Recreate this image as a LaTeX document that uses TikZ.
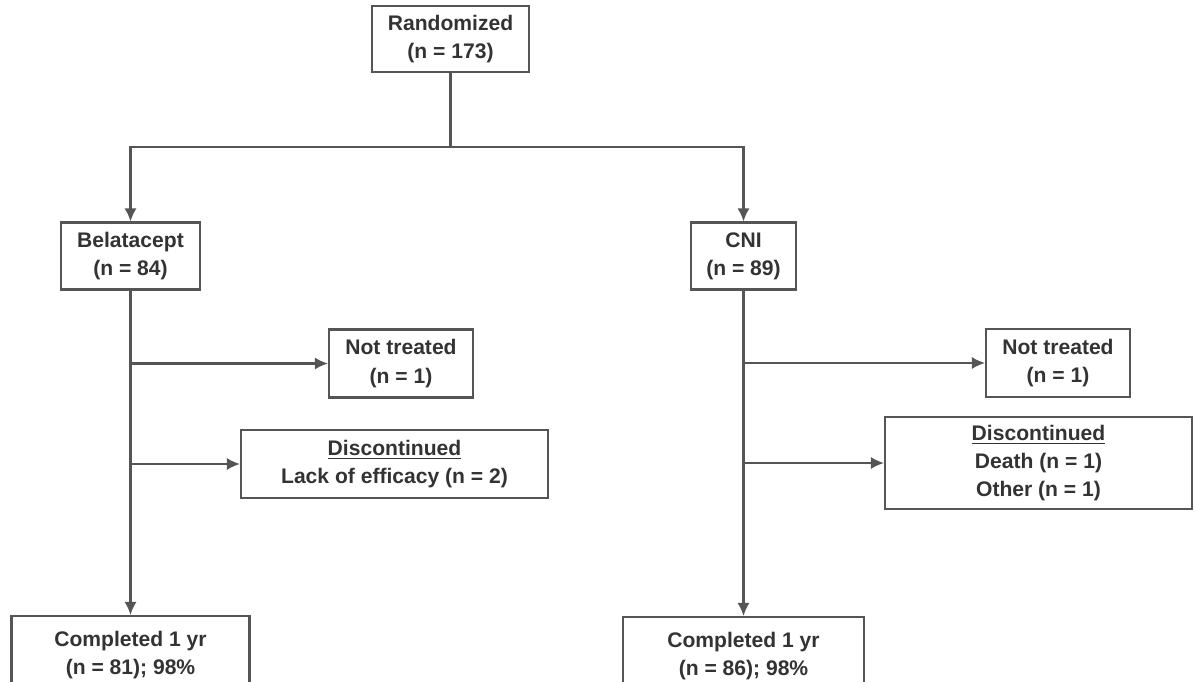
\documentclass[tikz,border=0pt]{standalone}
\usepackage{fontspec}
\setmainfont{Liberation Sans}
\usepackage{tikz}
\usetikzlibrary{arrows.meta}

\definecolor{linegray}{HTML}{555555}
\definecolor{textgray}{HTML}{333333}

\tikzset{
    box/.style={draw=linegray, line width=1.2pt, fill=white, align=center,
        text=textgray, font=\fontsize{12}{16}\selectfont\bfseries, inner sep=2pt},
    flow/.style={draw=linegray, line width=1.2pt, -{Latex[length=7.5pt,width=7pt]}}
}

\begin{document}
\begin{tikzpicture}[x=0.02cm, y=-0.02cm]
            \useasboundingbox (0,0) rectangle (1196,682);
            \clip (0,0) rectangle (1196,682);
            % Boxes
            \node[box, minimum width=3.14cm, minimum height=1.32cm] (rand) at (450.5,39) {Randomized\\(n = 173)};
            \node[box, minimum width=2.78cm, minimum height=1.34cm] (bel) at (130.5,256) {Belatacept\\(n = 84)};
            \node[box, minimum width=2.1cm, minimum height=1.34cm] (cni) at (743.5,256) {CNI\\(n = 89)};
            \node[box, minimum width=2.88cm, minimum height=1.36cm] (ntbel) at (401,363.5) {Not treated\\(n = 1)};
            \node[box, minimum width=2.88cm, minimum height=1.36cm] (ntcni) at (1058,363) {Not treated\\(n = 1)};
            \node[box, minimum width=6.14cm, minimum height=1.36cm] (discbel) at (394.5,464) {\underline{Discontinued}\\Lack of efficacy (n = 2)};
            \node[box, minimum width=6.14cm, minimum height=1.84cm] (disccni) at (1038.5,463) {\underline{Discontinued}\\Death (n = 1)\\Other (n = 1)};
            \node[box, minimum width=4.76cm, minimum height=1.56cm, anchor=north] (donebel) at (130.5,615) {Completed 1 yr\\(n = 81); 98\%};
            \node[box, minimum width=4.82cm, minimum height=1.56cm, anchor=north] (donecni) at (743.5,616) {Completed 1 yr\\(n = 86); 98\%};
            % Arms
            \coordinate (split) at (450.5,147);
            \draw[draw=linegray, line width=1.2pt] (rand.south) -- (split);
            \draw[flow] (split) -| (bel.north);
            \draw[flow] (split) -| (cni.north);
            % Follow-up
            \draw[flow] (bel.south) -- (donebel.north);
            \draw[flow] (cni.south) -- (donecni.north);
            \draw[flow] (bel.south |- ntbel.west) -- (ntbel.west);
            \draw[flow] (bel.south |- discbel.west) -- (discbel.west);
            \draw[flow] (cni.south |- ntcni.west) -- (ntcni.west);
            \draw[flow] (cni.south |- disccni.west) -- (disccni.west);
        \end{tikzpicture}
\end{document}
